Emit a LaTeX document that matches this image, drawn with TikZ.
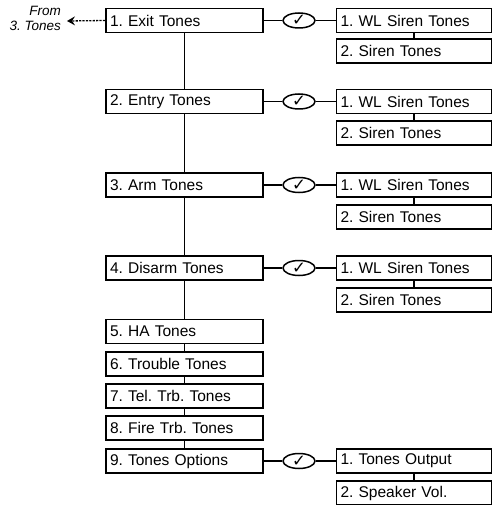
\documentclass[tikz,border=0pt]{standalone}
\usepackage{fontspec}
\setmainfont{Liberation Sans}
\newfontfamily\symfont{DejaVu Sans}
\usetikzlibrary{shapes.geometric,arrows.meta}
\tikzset{
  mbox/.style={draw, line width=1.9pt, fill=white, rectangle, minimum height=24pt,
    text width=149pt, inner xsep=4pt, inner ysep=0pt, align=left,
    font=\frenchspacing\fontsize{15.5pt}{17pt}\selectfont},
  rbox/.style={mbox, text width=147pt},
  chk/.style={draw, line width=1.5pt, ellipse, fill=white, minimum width=32pt, minimum height=15pt,
    inner sep=0pt, font=\symfont\fontsize{16.5pt}{16.5pt}\selectfont},
  conn/.style={line width=1.9pt},
  fromtxt/.style={align=right, font=\frenchspacing\itshape\fontsize{13.5pt}{14.5pt}\selectfont, inner sep=0pt}
}
\begin{document}
\begin{tikzpicture}[x=1pt,y=-1pt]
\useasboundingbox (0,0) rectangle (494,505);
% main column
\node[mbox] (b1) at (184.5,20.5) {1. Exit Tones};
\node[mbox] (b2) at (184.5,101.5) {2. Entry Tones};
\node[mbox] (b3) at (184.5,185) {3. Arm Tones};
\node[mbox] (b4) at (184.5,268) {4. Disarm Tones};
\node[mbox] (b5) at (184.5,331.5) {5. HA Tones};
\node[mbox] (b6) at (184.5,364) {6. Trouble Tones};
\node[mbox] (b7) at (184.5,396) {7. Tel. Trb. Tones};
\node[mbox] (b8) at (184.5,428) {8. Fire Trb. Tones};
\node[mbox] (b9) at (184.5,461) {9. Tones Options};
\draw[conn] (b1) -- (b2);
\draw[conn] (b2) -- (b3);
\draw[conn] (b3) -- (b4);
\draw[conn] (b4) -- (b5);
\draw[conn] (b5) -- (b6);
\draw[conn] (b6) -- (b7);
\draw[conn] (b7) -- (b8);
\draw[conn] (b8) -- (b9);
% check ellipses
\node[chk] (c1) at (299,20.5) {✓};
\node[chk] (c2) at (299,101.5) {✓};
\node[chk] (c3) at (299,185) {✓};
\node[chk] (c4) at (299,268) {✓};
\node[chk] (c9) at (299,461) {✓};
% right column
\node[rbox] (r1a) at (414,20.5) {1. WL Siren Tones};
\node[rbox] (r1b) at (414,51) {2. Siren Tones};
\node[rbox] (r2a) at (414,101.5) {1. WL Siren Tones};
\node[rbox] (r2b) at (414,133) {2. Siren Tones};
\node[rbox] (r3a) at (414,185) {1. WL Siren Tones};
\node[rbox] (r3b) at (414,217) {2. Siren Tones};
\node[rbox] (r4a) at (414,268) {1. WL Siren Tones};
\node[rbox] (r4b) at (414,300) {2. Siren Tones};
\node[rbox] (r9a) at (414,461) {1. Tones Output};
\node[rbox] (r9b) at (414,493) {2. Speaker Vol.};
\foreach \i in {1,2,3,4,9}{
  \draw[conn] (b\i) -- (c\i);
  \draw[conn] (c\i) -- (r\i a);
  \draw[conn] (r\i a) -- (r\i b);
}
% from note
\node[fromtxt, anchor=north east] (from) at (61,6.5) {From\\3. Tones};
\coordinate (tip) at (67,21);
\draw[line width=1.3pt, dash pattern=on 2.2pt off 1.2pt,
  -{Stealth[length=8pt,width=9pt,inset=3pt]}] (b1.west) -- (tip);
\end{tikzpicture}
\end{document}
